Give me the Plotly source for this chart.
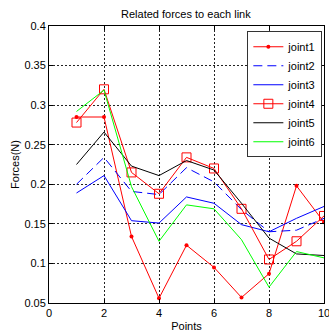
import plotly.graph_objects as go

points = [1, 2, 3, 4, 5, 6, 7, 8, 9, 10]
joint1 = [0.285, 0.285, 0.134, 0.056, 0.123, 0.095, 0.057, 0.087, 0.198, 0.152]
joint2 = [0.200, 0.234, 0.191, 0.187, 0.221, 0.203, 0.168, 0.140, 0.142, 0.157]
joint3 = [0.189, 0.211, 0.154, 0.151, 0.184, 0.176, 0.149, 0.140, 0.157, 0.172]
joint4 = [0.278, 0.320, 0.215, 0.188, 0.234, 0.220, 0.169, 0.105, 0.128, 0.160]
joint5 = [0.225, 0.266, 0.223, 0.211, 0.230, 0.218, 0.176, 0.132, 0.112, 0.110]
joint6 = [0.292, 0.319, 0.197, 0.128, 0.174, 0.169, 0.130, 0.070, 0.115, 0.107]

xticks = [0, 2, 4, 6, 8, 10]
xticklabels = ["0", "2", "4", "6", "8", "10"]
yticks = [0.05, 0.1, 0.15, 0.2, 0.25, 0.3, 0.35, 0.4]
yticklabels = ["0.05", "0.1", "0.15", "0.2", "0.25", "0.3", "0.35", "0.4"]

fig = go.Figure()
fig.add_trace(go.Scatter(x=points, y=joint1, name="joint1", mode="lines+markers",
                         line=dict(color="#ff0000", width=1),
                         marker=dict(symbol="circle", size=4, color="#ff0000")))
fig.add_trace(go.Scatter(x=points, y=joint2, name="joint2", mode="lines",
                         line=dict(color="#0000ff", width=1, dash="9px,5px")))
fig.add_trace(go.Scatter(x=points, y=joint3, name="joint3", mode="lines",
                         line=dict(color="#0000ff", width=1)))
fig.add_trace(go.Scatter(x=points, y=joint4, name="joint4", mode="lines+markers",
                         line=dict(color="#ff0000", width=1),
                         marker=dict(symbol="square-open", size=9, color="#ff0000",
                                     line=dict(width=1, color="#ff0000"))))
fig.add_trace(go.Scatter(x=points, y=joint5, name="joint5", mode="lines",
                         line=dict(color="#000000", width=1)))
fig.add_trace(go.Scatter(x=points, y=joint6, name="joint6", mode="lines",
                         line=dict(color="#00ff00", width=1)))

axis_common = dict(showline=True, linecolor="black", linewidth=1, mirror="ticks",
                   ticks="inside", ticklen=4, tickcolor="black",
                   showgrid=True, gridcolor="#222222", griddash="2px,2px", gridwidth=1,
                   zeroline=False, tickfont=dict(size=11, color="black"),
                   ticklabeloverflow="allow", automargin=False)

fig.update_layout(
    width=329, height=334,
    margin=dict(l=49, r=5, t=26, b=31),
    paper_bgcolor="white", plot_bgcolor="white",
    font=dict(family="Liberation Sans, Arial, sans-serif", size=11, color="black"),
    title=dict(text="Related forces to each link", x=0.565, xanchor="center",
               y=0.958, yanchor="middle", font=dict(size=11)),
    xaxis=dict(range=[0, 10], tickvals=xticks, ticktext=xticklabels,
               title=dict(text="Points", standoff=4, font=dict(size=11)), **axis_common),
    yaxis=dict(range=[0.05, 0.4], tickvals=yticks, ticktext=yticklabels,
               title=dict(text="Forces(N)", standoff=2, font=dict(size=11)), **axis_common),
    legend=dict(x=0.994, y=0.981, xanchor="right", yanchor="top",
                bgcolor="white", bordercolor="#333333", borderwidth=1,
                font=dict(size=11), itemwidth=30, tracegroupgap=0),
    showlegend=True,
)

fig.write_html("out.html")
